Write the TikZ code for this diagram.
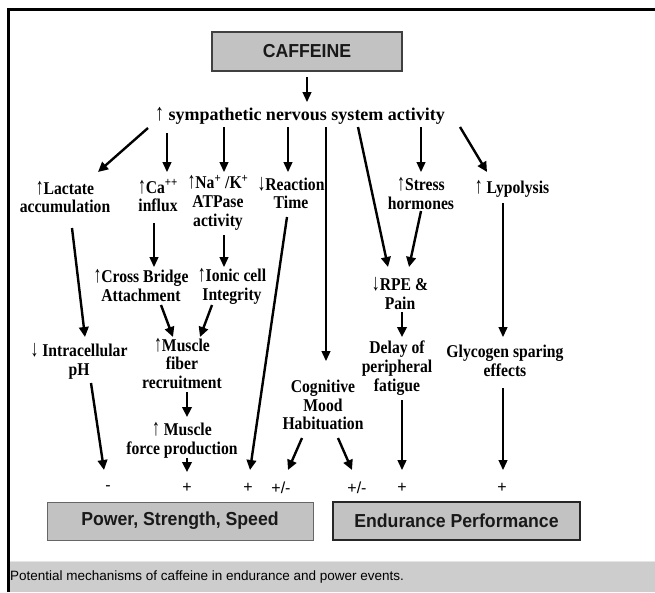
\documentclass[tikz,border=0pt]{standalone}
\usepackage{fontspec}
\setmainfont{Liberation Serif}
\setsansfont{Liberation Sans}
\newfontfamily\lblfont[FakeStretch=0.87]{Liberation Serif}
\newfontfamily\boxfont[FakeStretch=0.94]{Liberation Sans}
\usetikzlibrary{arrows.meta,calc}
\newcommand\uarr{{\mdseries\scalebox{1}[1.3]{↑}}}
\newcommand\darr{{\mdseries\scalebox{1}[1.3]{↓}}}
\definecolor{boxgrey}{HTML}{C2C2C2}
\definecolor{capgrey}{HTML}{CDCDCD}
\tikzset{
  lbl/.style={align=center,inner sep=0pt,font=\lblfont\fontsize{18}{18.8}\selectfont\bfseries},
  sgn/.style={inner sep=0pt,font=\sffamily\fontsize{16}{18}\selectfont},
  gbox/.style={draw=black!75,fill=boxgrey,line width=1.3pt,inner sep=0pt,font=\boxfont\bfseries\fontsize{18.8}{21}\selectfont,text=black!90},
  tarr/.style={line width=1.3pt,-{Triangle[length=10pt,width=9pt]}},
  karr/.style={line width=2.4pt,-{Triangle[length=10pt,width=9.5pt]}}
}
\begin{document}
\begin{tikzpicture}[x=1pt,y=-1pt]
\useasboundingbox (0,0) rectangle (655,592);
% frame and caption band
\fill[capgrey] (9,562) rectangle (655,592);
\draw[black!10,line width=1pt] (9,561.5) -- (655,561.5);
\fill[black] (7,8) rectangle (655,10.5);
\fill[black] (7,8) rectangle (9.5,592);
\node[anchor=west,inner sep=0pt,font=\sffamily\fontsize{13.5}{16}\selectfont] (cap) at (10,577) {Potential mechanisms of caffeine in endurance and power events.};
% boxes
\node[gbox,minimum width=190pt,minimum height=39pt] (caff) at (307,51.5) {CAFFEINE};
\node[align=center,inner sep=0pt,font=\fontsize{18}{22}\selectfont\bfseries] (symp) at (300,116) {\uarr\ sympathetic nervous system activity};
\node[lbl] (lact) at (65,197) {\uarr Lactate\\accumulation};
\node[lbl] (ca) at (158,196) {\uarr Ca\textsuperscript{++}\\influx};
\node[lbl] (na) at (218,203) {\uarr Na\textsuperscript{+} /K\textsuperscript{+}\\ATPase\\activity};
\node[lbl] (react) at (291,193) {\darr Reaction\\Time};
\node[lbl] (stress) at (421,193.5) {\uarr Stress\\hormones};
\node[lbl] (lypo) at (512,189) {\uarr\ Lypolysis};
\node[lbl] (cross) at (141,285.5) {\uarr Cross Bridge\\Attachment};
\node[lbl] (ionic) at (232,286.5) {\uarr Ionic cell\\Integrity};
\node[lbl] (rpe) at (400,293.5) {\darr RPE \&\\Pain};
\node[lbl] (ph) at (79,361) {\darr\ Intracellular\\pH};
\node[lbl] (fiber) at (182,363.5) {\uarr Muscle\\fiber\\recruitment};
\node[lbl] (delay) at (397,368) {Delay of\\peripheral\\fatigue};
\node[lbl] (glyco) at (505,361) {Glycogen sparing\\effects};
\node[lbl] (cog) at (323,405) {Cognitive\\Mood\\Habituation};
\node[lbl] (force) at (182,440) {\uarr\ Muscle\\force production};
% signs
\node[sgn] (s1) at (108,488) {-};
\node[sgn] (s2) at (187,488) {+};
\node[sgn] (s3) at (248,488) {+};
\node[sgn] (s4) at (281,488) {+/-};
\node[sgn] (s5) at (357,488) {+/-};
\node[sgn] (s6) at (402,488) {+};
\node[sgn] (s7) at (502,488) {+};
% outcome boxes
\node[gbox,draw=black!60,line width=1pt,minimum width=266pt,minimum height=38pt] (power) at (180,521) {Power, Strength, Speed};
\node[gbox,draw=black!85,line width=1.6pt,minimum width=247pt,minimum height=38pt] (endur) at (456.5,521) {Endurance Performance};
% connectors
\draw[tarr] ($(caff)+(0,25.5)$) -- ($(symp)+(7,-14)$);
\draw[karr] ($(symp)+(-152,12)$) -- ($(lact)+(33,-25)$);
\draw[tarr] ($(symp)+(-133,17)$) -- ($(ca)+(9,-24)$);
\draw[tarr] ($(symp)+(-76,11)$) -- ($(na)+(6,-31)$);
\draw[tarr] ($(symp)+(-12,11)$) -- ($(react)+(-3,-21)$);
\draw[tarr] ($(symp)+(26,11)$) -- ($(cog)+(3,-44)$);
\draw[karr] ($(symp)+(58,11)$) -- ($(rpe)+(-12,-26.5)$);
\draw[tarr] ($(symp)+(121,11)$) -- ($(stress)+(0,-21.5)$);
\draw[karr] ($(symp)+(160,11)$) -- ($(lypo)+(-25,-17)$);
\draw[karr] ($(lact)+(7,31)$) -- ($(ph)+(6,-24)$);
\draw[tarr] ($(ca)+(-4,27)$) -- ($(cross)+(13,-18.5)$);
\draw[tarr] ($(na)+(6,32)$) -- ($(ionic)+(-8,-19.5)$);
\draw[karr] ($(react)+(-4,24)$) -- ($(s3)+(2,-18)$);
\draw[karr] ($(stress)+(0,17.5)$) -- ($(rpe)+(9,-26.5)$);
\draw[tarr] ($(lypo)+(-9,14)$) -- ($(glyco)+(-2,-24)$);
\draw[karr] ($(cross)+(20,19.5)$) -- ($(fiber)+(-9,-26.5)$);
\draw[karr] ($(ionic)+(-20,18.5)$) -- ($(fiber)+(18,-26.5)$);
\draw[karr] ($(fiber)+(5,28.5)$) -- ($(force)+(5,-23)$);
\draw[karr] ($(force)+(5,18)$) -- ($(s2)+(0,-16)$);
\draw[karr] ($(rpe)+(2,18.5)$) -- ($(delay)+(5,-31)$);
\draw[karr] ($(ph)+(12,22)$) -- ($(s1)+(-4,-18)$);
\draw[karr] ($(cog)+(-21,33)$) -- ($(s4)+(7,-18)$);
\draw[karr] ($(cog)+(15,33)$) -- ($(s5)+(-5,-18)$);
\draw[tarr] ($(delay)+(5,32)$) -- ($(s6)+(0,-18)$);
\draw[tarr] ($(glyco)+(-2,27)$) -- ($(s7)+(1,-18)$);
\end{tikzpicture}
\end{document}
